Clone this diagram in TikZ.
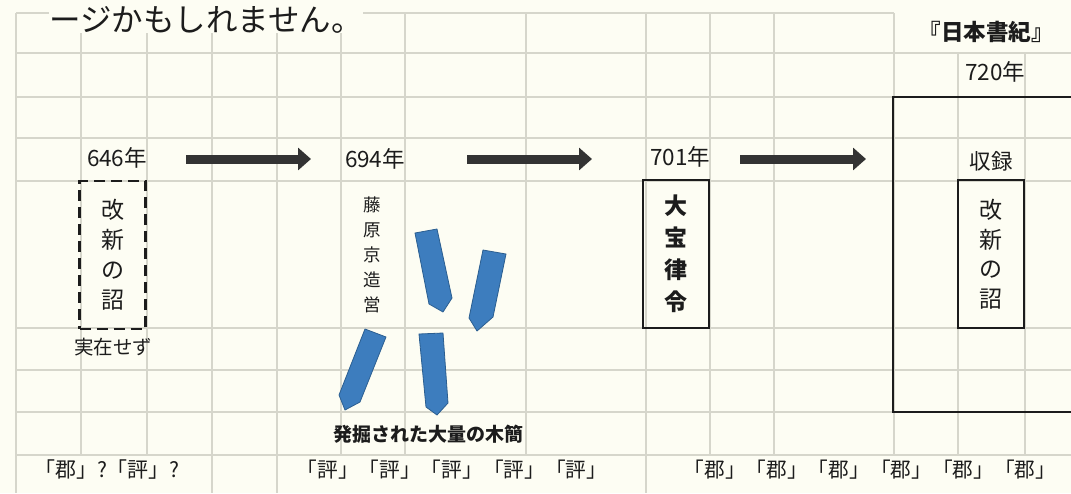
\documentclass[tikz,border=0pt]{standalone}
\usepackage{fontspec}
\setmainfont{Noto Sans CJK JP}
\usetikzlibrary{arrows.meta}
\definecolor{paper}{HTML}{FDFDF3}
\definecolor{gridc}{HTML}{D6D6CB}
\definecolor{ink}{HTML}{1C1C1C}
\definecolor{arrowc}{HTML}{333333}
\definecolor{mokkanfill}{HTML}{3D7DBE}
\definecolor{mokkanedge}{HTML}{2B5E90}
\tikzset{
  gridline/.style={gridc, line width=1.3pt},
  yr/.style={font=\fontsize{22.5}{22.5}\selectfont, text=ink, inner sep=0pt},
  lbl/.style={text=ink, inner sep=0pt},
  bigarrow/.style={arrowc, line width=9pt, -{Triangle[length=13pt,width=22pt]}},
  frame/.style={draw=ink, line width=2.8pt, inner sep=0pt},
  vbox/.style={frame, minimum width=66pt, minimum height=148pt, align=center, text=ink},
  mokkan/.style={fill=mokkanfill, draw=mokkanedge, line width=0.8pt, line join=round},
}
\begin{document}
\begin{tikzpicture}[x=1pt,y=-1pt]
\useasboundingbox (0,0) rectangle (1071,493);
\clip (0,0) rectangle (1071,493);
\fill[paper] (0,0) rectangle (1071,493);
% grid
\foreach \x in {81,147,341,405,526,710,774,894}
  \draw[gridline] (\x,13) -- (\x,455);
\foreach \x in {16,212,277,646}
  \draw[gridline] (\x,13) -- (\x,493);
\foreach \x in {958,1025}
  \draw[gridline] (\x,53) -- (\x,455);
\draw[gridline] (16,13) -- (894,13);
\foreach \y in {53,97,138,181,328,370,412,455}
  \draw[gridline] (16,\y) -- (1071,\y);
% title fragment
\node[lbl, fill=paper, anchor=west, font=\fontsize{31.5}{31.5}\selectfont] (title) at (49,20) {ージかもしれません。};
% top right
\node[lbl, font=\fontsize{22.5}{22.5}\selectfont\bfseries] (shoki) at (986,32) {『日本書紀』};
\node[yr] (y720) at (995,72) {720年};
% years
\node[yr] (y646) at (117,158) {646年};
\node[yr] (y694) at (375,159) {694年};
\node[yr] (y701) at (680,157) {701年};
% arrows
\coordinate (a1s) at (186,159);
\coordinate (a1e) at (311,159);
\coordinate (a2s) at (467,159);
\coordinate (a2e) at (592,159);
\coordinate (a3s) at (740,159);
\coordinate (a3e) at (866,159);
\draw[bigarrow] (a1s) -- (a1e);
\draw[bigarrow] (a2s) -- (a2e);
\draw[bigarrow] (a3s) -- (a3e);
% 646
\node[vbox, dash pattern=on 11pt off 6pt, font=\fontsize{23}{30}\selectfont] (kaishin1) at (112.5,255) {改\\新\\の\\詔};
\node[lbl, font=\fontsize{19.5}{19.5}\selectfont] (jitsuzai) at (113,347) {実在せず};
% 694
\node[lbl, align=center, font=\fontsize{17.5}{25}\selectfont] (fujiwara) at (372,255) {藤\\原\\京\\造\\営};
\fill[mokkan] (415,233) -- (437,229) -- (452,298) -- (443,312) -- (429,304) -- cycle;
\fill[mokkan] (483,250) -- (506,254) -- (493,317) -- (477,331) -- (469,318) -- cycle;
\fill[mokkan] (365,329) -- (386,337) -- (360,402) -- (345,410) -- (339,395) -- cycle;
\fill[mokkan] (419,334) -- (443,333) -- (448,403) -- (437,415) -- (426,407) -- cycle;
\node[lbl, font=\fontsize{19}{19}\selectfont\bfseries] (mokkantext) at (428,434) {発掘された大量の木簡};
% 701
\node[vbox, font=\fontsize{23}{32}\selectfont\bfseries] (taiho) at (676,254) {大\\宝\\律\\令};
% 720
\node[frame, minimum width=207pt, minimum height=315pt] (shokibox) at (996.5,254.5) {};
\node[lbl, font=\fontsize{21.5}{21.5}\selectfont] (shuroku) at (991,161) {収録};
\node[vbox, font=\fontsize{23}{29.5}\selectfont] (kaishin2) at (991,254) {改\\新\\の\\詔};
% bottom row
\node[lbl, font=\fontsize{21}{21}\selectfont] (b1) at (107,470) {「郡」?「評」?};
\node[lbl, font=\fontsize{20.7}{21}\selectfont] (b2) at (452,470) {「評」「評」「評」「評」「評」};
\node[lbl, font=\fontsize{20.7}{21}\selectfont] (b3) at (870,470) {「郡」「郡」「郡」「郡」「郡」「郡」};
\end{tikzpicture}
\end{document}
